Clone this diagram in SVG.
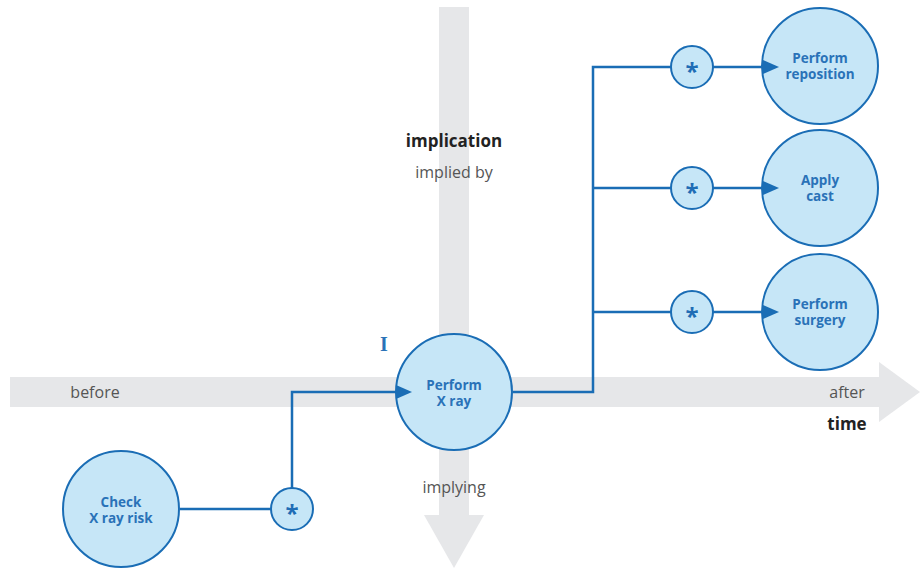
<svg xmlns="http://www.w3.org/2000/svg" width="920" height="570" viewBox="0 0 920 570">
<defs>
<style>
.bg{fill:#e6e7e9}
.node{fill:#c6e6f7;stroke:#1a6db5;stroke-width:2}
.nt{font-family:"Open Sans",sans-serif;font-weight:bold;font-size:13.5px;fill:#2a72b8;text-anchor:middle}
.st{font-family:"Open Sans",sans-serif;font-weight:bold;font-size:24px;fill:#1f6db5;text-anchor:middle}
.ln{fill:none;stroke:#1a6db5;stroke-width:2.5}
.lbl{font-family:"Open Sans",sans-serif;font-size:16px;fill:#555;text-anchor:middle}
.lblb{font-family:"Open Sans",sans-serif;font-size:17px;font-weight:bold;fill:#222;text-anchor:middle}
</style>
<marker id="ah" viewBox="0 0 16 14" refX="0" refY="7" markerWidth="16" markerHeight="14" markerUnits="userSpaceOnUse" orient="auto">
<path d="M0,0 L16,7 L0,14 Z" fill="#1a6db5"/>
</marker>
</defs>
<g id="axes">
<rect class="bg" x="439" y="7" width="30" height="510"/>
<path class="bg" d="M424,515 L484,515 L454,568 Z"/>
<rect class="bg" x="10" y="377" width="871" height="30"/>
<path class="bg" d="M879,362 L920,392 L879,422 Z"/>
<text class="lblb" x="454" y="147">implication</text>
<text class="lbl" x="454" y="178" font-size="15">implied by</text>
<text class="lbl" x="454" y="493">implying</text>
<text class="lbl" x="95" y="398">before</text>
<text class="lbl" x="847" y="398">after</text>
<text class="lblb" x="847" y="430">time</text>
<text x="384" y="351" font-family="Liberation Serif,serif" font-weight="bold" font-size="20" fill="#2a72b8" text-anchor="middle">I</text>
</g>
<g id="perform-xray">
<circle class="node" cx="454" cy="392" r="58"/>
<text class="nt" x="454" y="390">Perform</text>
<text class="nt" x="454" y="406">X ray</text>
</g>
<g id="check-xray-risk">
<circle class="node" cx="121" cy="509" r="58"/>
<text class="nt" x="121" y="507">Check</text>
<text class="nt" x="121" y="523">X ray risk</text>
</g>
<g id="perform-reposition">
<circle class="node" cx="820" cy="66" r="58"/>
<text class="nt" x="820" y="63">Perform</text>
<text class="nt" x="820" y="79">reposition</text>
</g>
<g id="apply-cast">
<circle class="node" cx="820" cy="188" r="58"/>
<text class="nt" x="820" y="185">Apply</text>
<text class="nt" x="820" y="201">cast</text>
</g>
<g id="perform-surgery">
<circle class="node" cx="820" cy="312" r="58"/>
<text class="nt" x="820" y="309">Perform</text>
<text class="nt" x="820" y="325">surgery</text>
</g>
<g id="star1"><circle class="node" cx="692" cy="67" r="21"/><text class="st" x="692" y="80">*</text></g>
<g id="star2"><circle class="node" cx="692" cy="188" r="21"/><text class="st" x="692" y="201">*</text></g>
<g id="star3"><circle class="node" cx="692" cy="312" r="21"/><text class="st" x="692" y="325">*</text></g>
<g id="star4"><circle class="node" cx="292" cy="509" r="21"/><text class="st" x="292" y="522">*</text></g>
<g id="connectors">
<path class="ln" d="M180,509 L271,509"/>
<path class="ln" d="M292,488 L292,392 L396,392" marker-end="url(#ah)"/>
<path class="ln" d="M513,392 L593,392 L593,67 L671,67"/>
<path class="ln" d="M593,188 L671,188"/>
<path class="ln" d="M593,312 L671,312"/>
<path class="ln" d="M713,67 L763,67" marker-end="url(#ah)"/>
<path class="ln" d="M713,188 L763,188" marker-end="url(#ah)"/>
<path class="ln" d="M713,312 L763,312" marker-end="url(#ah)"/>
</g>
</svg>
